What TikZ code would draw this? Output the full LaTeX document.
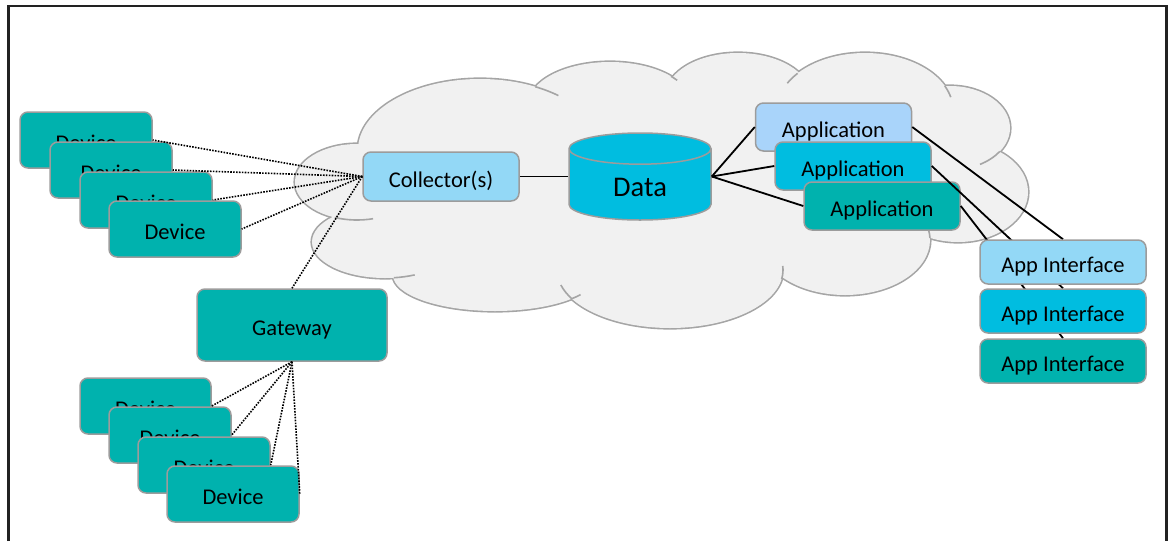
\documentclass[tikz,border=0pt]{standalone}
\usepackage{fontspec}
\setmainfont{Carlito}
\usepackage{tikz}
\usetikzlibrary{shapes.geometric}

\definecolor{tealbox}{HTML}{00B2AE}
\definecolor{cyanbox}{HTML}{00BDE0}
\definecolor{skybox}{HTML}{93D8F6}
\definecolor{palebox}{HTML}{A9D4FA}
\definecolor{cloudfill}{HTML}{F1F1F1}
\definecolor{cloudline}{HTML}{A5A5A5}
\definecolor{boxline}{HTML}{9C9C9C}
\definecolor{framecol}{HTML}{222222}

\pgfdeclarelayer{front}
\pgfsetlayers{main,front}

\tikzset{
	box/.style={draw=boxline, line width=0.75pt, rounded corners=4pt, inner sep=0pt,
		text height=10.7pt, text depth=0pt, font=\fontsize{11.25}{13}\selectfont},
	devbox/.style={box, fill=tealbox, minimum width=66pt, minimum height=28pt},
	gatebox/.style={box, fill=tealbox, minimum width=95pt, minimum height=36pt},
	collbox/.style={box, fill=skybox, minimum width=78pt, minimum height=24.5pt},
	appbox/.style={box, minimum width=78pt, minimum height=24pt},
	ifbox/.style={box, minimum width=83pt, minimum height=22pt},
	datacyl/.style={cylinder, shape border rotate=90, draw=boxline, fill=cyanbox,
		line width=0.75pt, inner sep=0pt, aspect=0.58, minimum width=71pt,
		minimum height=43.5pt, anchor=shape center, text height=12.2pt, text depth=0pt,
		font=\fontsize{14.25}{16}\selectfont},
	dotline/.style={line width=0.8pt, dash pattern=on 0.8pt off 0.65pt},
	link/.style={line width=0.9pt},
	puff/.style={cloudline, line width=0.8pt},
}

\begin{document}
\begin{tikzpicture}[x=0.5pt, y=-0.5pt]
	\useasboundingbox (0,0) rectangle (1170,541);
	\draw[framecol, line width=1.1pt] (8.5,541) -- (8.5,6) -- (1166.5,6) -- (1166.5,541);

	% cloud made of puffs
	\def\puffs{357/182/62/38, 480/150/122/71, 610/105/82/43, 738/95/72/42,
		865/110/88/57, 950/128/60/42, 958/192/70/50, 845/240/85/55,
		670/270/113/58, 495/275/102/36, 385/242/73/36}
	\foreach \cx/\cy/\rx/\ry in \puffs
		\filldraw[fill=cloudfill, draw=cloudline, line width=1.6pt] (\cx,\cy) ellipse [x radius=\rx, y radius=\ry];
	\foreach \cx/\cy/\rx/\ry in \puffs
		\fill[cloudfill] (\cx,\cy) ellipse [x radius=\rx, y radius=\ry];
	\fill[cloudfill] (357,182) -- (480,150) -- (610,105) -- (738,95) -- (865,110) -- (950,128)
		-- (958,192) -- (845,240) -- (670,270) -- (495,275) -- (385,242) -- cycle;
	% inner arcs of the puffs
	\foreach \cx/\cy/\rx/\ry/\sa/\ea in {480/150/122/71/-63/-50, 610/105/82/43/-42/-35,
		865/110/88/57/-152/-140, 865/110/88/57/-25/-13, 950/128/60/42/34/60,
		845/240/85/55/-20/-2, 670/270/113/58/-4/9, 670/270/113/58/150/165,
		495/275/102/36/33/41, 385/242/73/36/66/83, 357/182/62/38/75/111} {
		\pgfmathsetmacro\px{\cx+\rx*cos(\sa)}
		\pgfmathsetmacro\py{\cy+\ry*sin(\sa)}
		\draw[puff] (\px,\py) arc [start angle=\sa, end angle=\ea, x radius=\rx, y radius=\ry];
	}

	% devices
	\node[devbox] (dev1) at (86,140) {Device};
	\node[devbox, minimum width=61pt] (dev2) at (111,170) {Device};
	\node[devbox] (dev3) at (146,200) {Device};
	\node[devbox] (dev4) at (175,229) {Device};

	\node[gatebox] (gw) at (292,325) {Gateway};
	\node[devbox, minimum width=65.5pt] (gdev1) at (145.5,406) {Device};
	\node[devbox, minimum width=61pt] (gdev2) at (170,435) {Device};
	\node[devbox] (gdev3) at (204,465) {Device};
	\node[devbox] (gdev4) at (233,494) {Device};

	\node[collbox] (coll) at (441,176.5) {Collector(s)};
	\node[datacyl] (data) at (640,176.5) {Data};
	\coordinate (dataL) at (data.west |- data.shape center);
	\coordinate (dataR) at (data.east |- data.shape center);

	\node[appbox, fill=palebox] (app1) at (833.5,127) {Application};
	\node[appbox, fill=cyanbox] (app2) at (853,166) {Application};
	\node[appbox, fill=tealbox] (app3) at (882,206) {Application};

	\begin{pgfonlayer}{front}
		\node[ifbox, fill=skybox] (if1) at (1063,262) {App Interface};
		\node[ifbox, fill=cyanbox] (if2) at (1063,311) {App Interface};
		\node[ifbox, fill=tealbox] (if3) at (1063,361) {App Interface};
	\end{pgfonlayer}

	% connectors
	\foreach \d in {dev1,dev2,dev3,dev4}
		\draw[dotline] (coll.west) -- (\d.east);
	\draw[dotline] (coll.west) -- (gw.north);
	\foreach \d in {gdev1,gdev2,gdev3,gdev4}
		\draw[dotline] (gw.south) -- (\d.east);
	\draw[link] (coll.east) -- (dataL);
	\foreach \n in {1,2,3} {
		\draw[link] (dataR) -- (app\n.west);
		\draw[link] (app\n.east) -- (if\n.north);
	}
\end{tikzpicture}
\end{document}
